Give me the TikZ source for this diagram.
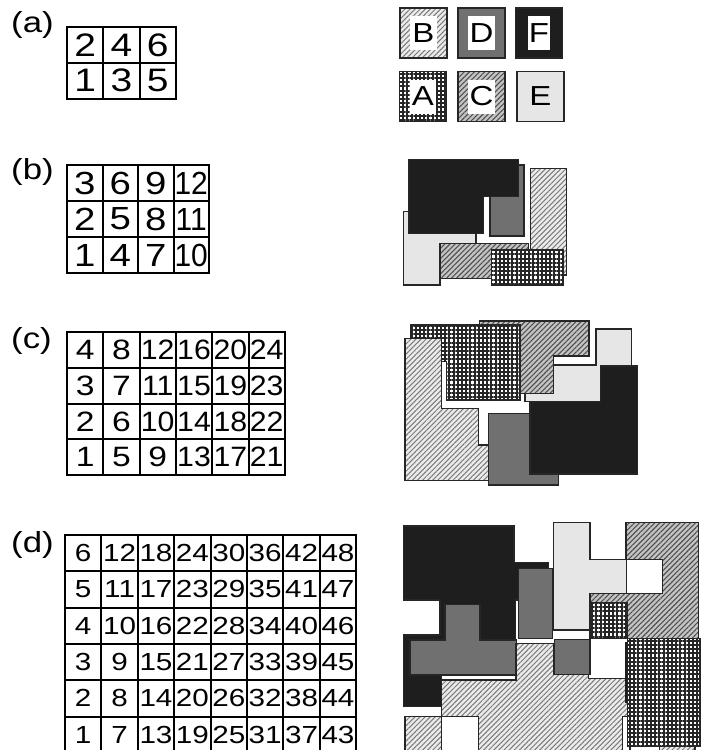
\documentclass[tikz,border=0pt]{standalone}
\usepackage{fontspec}
\usepackage{graphicx}
\setmainfont{Liberation Sans}
\newfontfamily\wf[FakeStretch=1.2]{Liberation Sans}
\usetikzlibrary{patterns.meta}
\definecolor{cF}{HTML}{1E1E1E}
\definecolor{cD}{HTML}{707070}
\definecolor{cE}{HTML}{E6E6E6}
\definecolor{cBbg}{HTML}{EBEBEB}
\definecolor{cBln}{HTML}{7A7A7A}
\definecolor{cCbg}{HTML}{C4C4C4}
\definecolor{cCln}{HTML}{505050}
\tikzset{
  piece/.style={draw=black!85, line width=1.4pt, line join=miter},
  pA/.style={piece, preaction={fill=white}, pattern={Hatch[angle=0,distance=4.2pt,line width=2.1pt]}, pattern color=black!85},
  pB/.style={piece, preaction={fill=cBbg}, pattern={Lines[angle=45,distance=3.6pt,line width=1pt]}, pattern color=cBln},
  pC/.style={piece, preaction={fill=cCbg}, pattern={Lines[angle=45,distance=3.6pt,line width=1.1pt]}, pattern color=cCln},
  pD/.style={piece, fill=cD},
  pE/.style={piece, fill=cE},
  pF/.style={piece, fill=cF},
  pW/.style={piece, fill=white},
  cell/.style={draw, line width=2pt, inner sep=0pt, font=\wf},
  lbl/.style={inner sep=0pt, font=\wf\fontsize{29}{29}\selectfont, anchor=base west},
  legsq/.style={minimum width=47pt, minimum height=50pt, inner sep=0pt},
  leglab/.style={inner xsep=2pt, inner ysep=0pt, minimum height=34pt, font=\wf\fontsize{27.5}{27.5}\selectfont},
  zoomed/.style={x=0.33333pt, y=-0.33333pt}
}
% name, x0, y0, cols, rows, w, h, fontsize, double-digit xscale
\newcommand\mkgrid[9]{%
  \foreach \c in {1,...,#4}{%
    \foreach \r in {1,...,#5}{%
      \pgfmathtruncatemacro\gn{(\c-1)*#5+\r}%
      \pgfmathsetmacro\gxx{#2+(\c-1)*#6}%
      \pgfmathsetmacro\gyy{#3+(#5-\r)*#7}%
      \ifnum\gn<10\relax\def\gsx{1}\else\def\gsx{#9}\fi
      \node[cell, minimum width=#6pt, minimum height=#7pt, anchor=north west] (#1-\gn) at (\gxx,\gyy) {\fontsize{#8}{#8}\selectfont\scalebox{\gsx}[1]{\gn}};
    }%
  }%
}
\begin{document}
\begin{tikzpicture}[x=1pt, y=-1pt]
\useasboundingbox (0,0) rectangle (708,750);
\clip (0,0) rectangle (708,750);

% labels
\node[lbl] (la) at (11,32.5) {(a)};
\node[lbl] (lb) at (11,179) {(b)};
\node[lbl] (lc) at (11,348.5) {(c)};
\node[lbl] (ld) at (11,552.5) {(d)};

% grids
\mkgrid{ga}{66}{26}{3}{2}{36.3}{35.8}{32.5}{1}
\mkgrid{gb}{66}{164}{4}{3}{35.5}{36}{32}{0.78}
\mkgrid{gc}{66}{331}{6}{4}{36.3}{35.75}{28}{0.9}
\mkgrid{gd}{64}{534}{8}{6}{36.4}{36.3}{24.7}{1}

% legend
\node[legsq, pB] (legB) at (423.5,33) {};
\node[legsq, pD] (legD) at (481.5,33) {};
\node[legsq, pF] (legF) at (539,33) {};
\node[legsq, pA] (legA) at (423,96.5) {};
\node[legsq, pC] (legC) at (481.5,96.5) {};
\node[legsq, pE] (legE) at (540.5,96.5) {};
\node[leglab, fill=white] (labB) at (legB.center) {B};
\node[leglab, fill=white] (labD) at (legD.center) {D};
\node[leglab, fill=white, inner xsep=0.5pt] (labF) at (legF.center) {F};
\node[leglab, fill=white] (labA) at (legA.center) {A};
\node[leglab, fill=white] (labC) at (legC.center) {C};
\node[leglab] (labE) at (legE.center) {E};

% (b) arrangement
\begin{scope}[xshift=390pt, yshift=-150pt, zoomed]
  \draw[pE] (40,185) -- (258,185) -- (258,290) -- (150,290) -- (150,405) -- (40,405) -- cycle;
  \draw[pD] (300,45) rectangle (402,258);
  \draw[pF] (57,28) -- (385,28) -- (385,140) -- (280,140) -- (280,250) -- (57,250) -- cycle;
  \draw[pB] (422,55) rectangle (530,375);
  \draw[pC] (150,280) rectangle (415,385);
  \draw[pA] (305,300) rectangle (520,405);
\end{scope}

% (c) arrangement
\begin{scope}[xshift=390pt, yshift=-310pt, zoomed]
  \draw[pE] (618,57) -- (725,57) -- (725,275) -- (405,275) -- (405,165) -- (618,165) -- cycle;
  \draw[pC] (268,33) -- (597,33) -- (597,138) -- (490,138) -- (490,250) -- (268,250) -- cycle;
  \draw[pA] (63,45) -- (390,45) -- (390,270) -- (170,270) -- (170,155) -- (63,155) -- cycle;
  \draw[pB] (45,85) -- (155,85) -- (155,295) -- (265,295) -- (265,405) -- (300,405) -- (300,512) -- (45,512) -- cycle;
  \draw[pD] (295,310) rectangle (505,525);
  \draw[pF] (632,168) -- (742,168) -- (742,492) -- (420,492) -- (420,275) -- (632,275) -- cycle;
\end{scope}

% (d) arrangement
\begin{scope}[xshift=390pt, yshift=-510pt, zoomed]
  \draw[pF] (40,48) -- (372,48) -- (372,158) -- (475,158) -- (475,270) -- (376,270) -- (376,495)
     -- (155,495) -- (155,590) -- (40,590) -- (40,375) -- (150,375) -- (150,270) -- (40,270) -- cycle;
  \draw[pD] (385,175) rectangle (487,385);
  \draw[pD] (165,283) -- (270,283) -- (270,390) -- (380,390) -- (380,495) -- (60,495) -- (60,390) -- (165,390) -- cycle;
  \draw[pD] (493,388) rectangle (600,493);
  \draw[pC] (708,38) -- (925,38) -- (925,385) -- (600,385) -- (600,250) -- (818,250) -- (818,148) -- (708,148) -- cycle;
  \draw[pE] (490,38) -- (600,38) -- (600,148) -- (710,148) -- (710,250) -- (600,250) -- (600,360) -- (490,360) -- cycle;
  \draw[pA] (605,278) rectangle (712,385);
  \draw[pB] (155,510) -- (378,510) -- (378,400) -- (490,400) -- (490,493) -- (595,493) -- (595,505)
     -- (712,505) -- (712,780) -- (155,780) -- cycle;
  \draw[pW] (155,620) rectangle (265,780);
  \draw[pB] (45,620) rectangle (155,780);
  \draw[pW] (698,620) rectangle (720,780);
  \fill[cF] (705,395) rectangle (716,580);
  \draw[pA] (713,385) rectangle (930,710);
  \draw[pB] (808,710) rectangle (915,780);
\end{scope}
\end{tikzpicture}
\end{document}
